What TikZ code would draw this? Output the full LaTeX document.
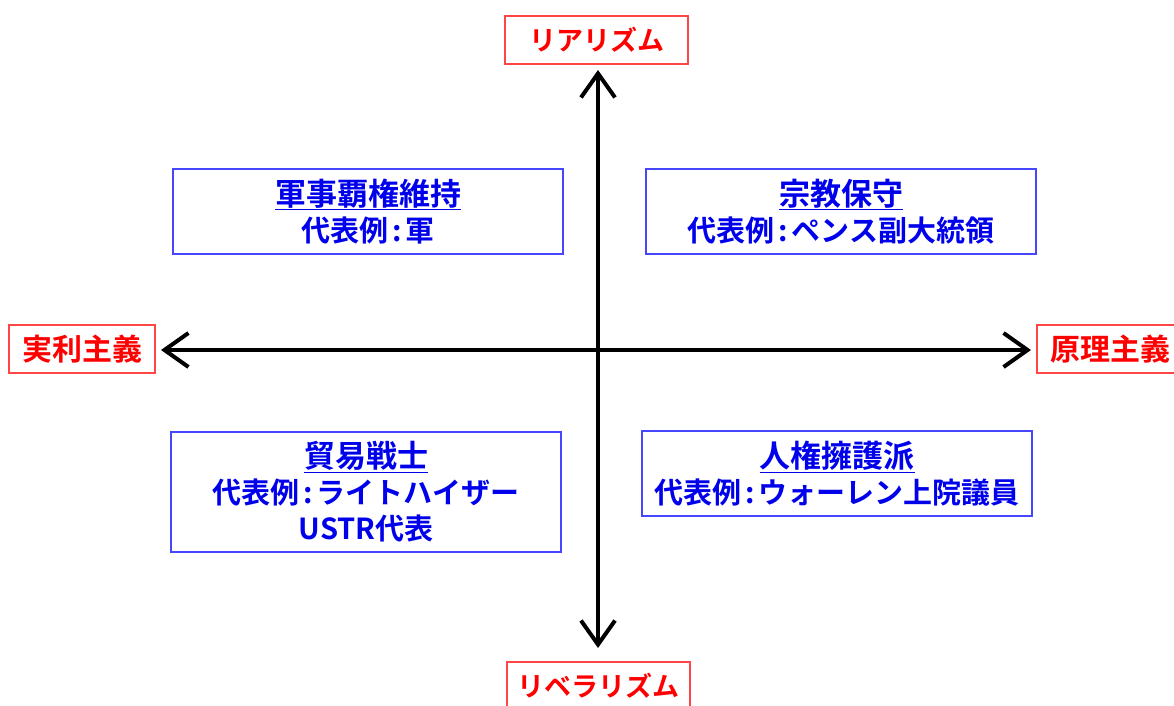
\documentclass[tikz,border=0pt]{standalone}
\usepackage{fontspec}
\usetikzlibrary{arrows.meta}
\newfontfamily\jp{Noto Sans CJK JP}[BoldFont={Noto Sans CJK JP Bold}]
\definecolor{axred}{RGB}{255,0,0}
\definecolor{boxred}{RGB}{255,70,70}
\definecolor{txtblue}{RGB}{0,0,235}
\definecolor{boxblue}{RGB}{70,70,255}
\newcommand{\colsep}{\hspace{4pt}:\hspace{4pt}}
\newcommand{\quadhead}[1]{{\fontsize{31}{36}\selectfont\underline{#1}}}
\begin{document}
\begin{tikzpicture}[x=1pt,y=-1pt,
  axislabel/.style={draw=boxred,line width=1.2pt,text=axred,font=\jp\bfseries\fontsize{27}{30}\selectfont,
    minimum height=48pt,inner sep=0pt},
  kanjilabel/.style={axislabel,font=\jp\bfseries\fontsize{30}{32}\selectfont},
  quad/.style={draw=boxblue,line width=1.2pt,text=txtblue,align=center,
    font=\jp\bfseries\fontsize{29}{36}\selectfont,minimum width=390pt,inner sep=0pt},
  axis/.style={line width=4pt,{Straight Barb[length=24pt,width=34pt]}-{Straight Barb[length=24pt,width=34pt]}}]
\useasboundingbox (0,0) rectangle (1174,706);
\node[axislabel,minimum width=183pt] (top) at (596.5,40) {リアリズム};
\node[axislabel,minimum width=183pt] (bottom) at (598.5,686) {リベラリズム};
\node[kanjilabel,minimum width=146pt] (left) at (82,349) {実利主義};
\node[kanjilabel,minimum width=146pt] (right) at (1110,349) {原理主義};
\coordinate (vt) at (598,70);
\coordinate (vb) at (598,648);
\coordinate (hl) at (161,350);
\coordinate (hr) at (1031,350);
\draw[axis] (vt) -- (vb);
\draw[axis] (hl) -- (hr);
\node[quad,minimum height=85pt] (tl) at (368,211.5) {\quadhead{軍事覇権維持}\\代表例\colsep 軍};
\node[quad,minimum height=85pt] (tr) at (841,211.5) {\quadhead{宗教保守}\\代表例\colsep ペンス副大統領};
\node[quad,minimum height=120pt] (bl) at (366,492) {\quadhead{貿易戦士}\\代表例\colsep ライトハイザー\\USTR代表};
\node[quad,minimum height=85pt] (br) at (837,473.5) {\quadhead{人権擁護派}\\代表例\colsep ウォーレン上院議員};
\end{tikzpicture}
\end{document}
